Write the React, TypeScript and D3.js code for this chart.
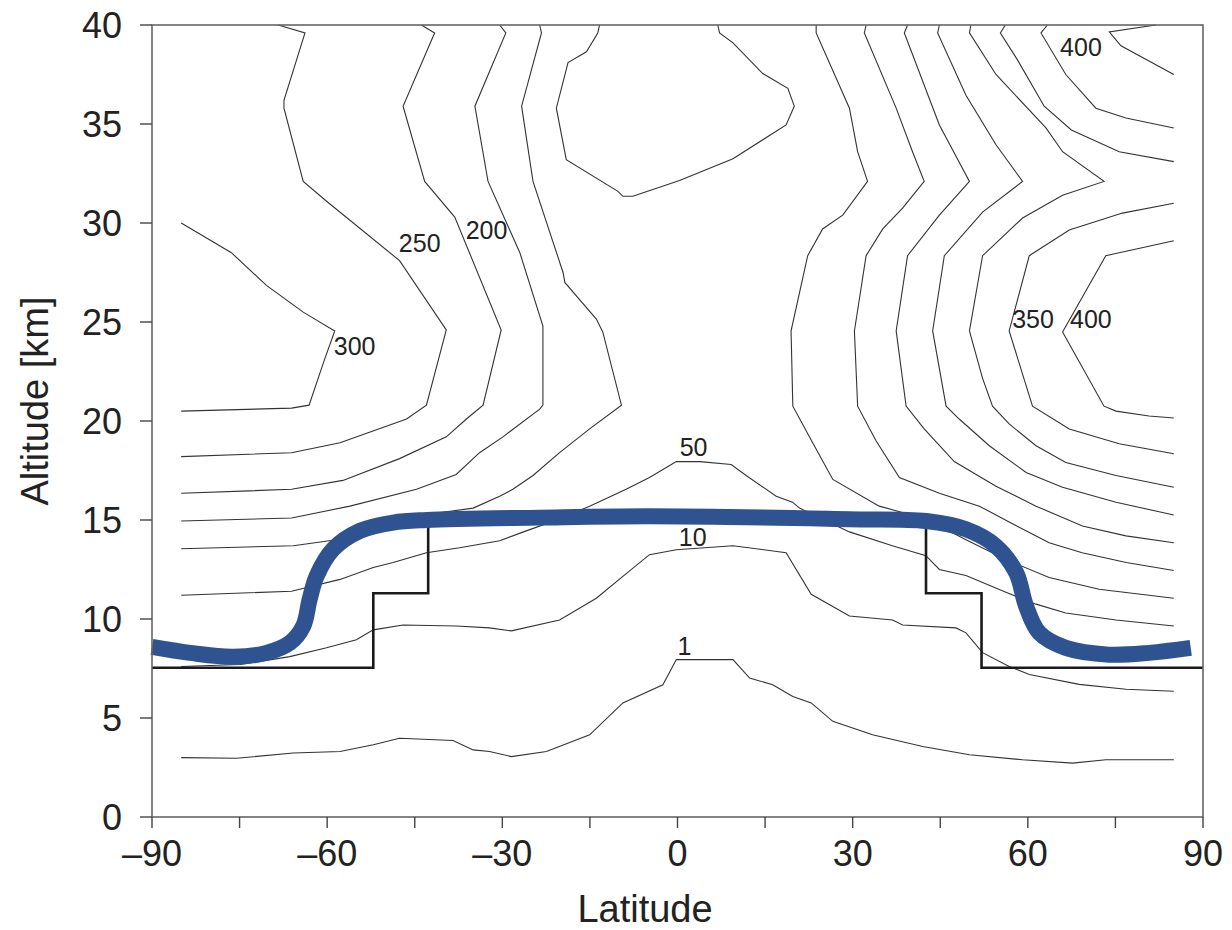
import React from 'react';
import * as d3 from 'd3';

const W = 1232, H = 930;
const plot = { left: 152, right: 1203, top: 25, bottom: 817 };
const FONT = '"Liberation Sans", Arial, Helvetica, sans-serif';

// contour lines as [latitude, altitude km]
const c1 = [[-85,3.0],[-75.5,2.97],[-65.8,3.23],[-57.8,3.31],[-52.1,3.65],[-47.6,3.98],[-38.45,3.86],[-35.0,3.39],[-32.2,3.31],[-28.45,3.05],[-22.45,3.31],[-15.05,4.15],[-9.35,5.76],[-2.5,6.68],[-0.2,7.95],[9.5,7.95],[12.35,7.02],[16.3,6.68],[19.75,6.09],[22.9,5.76],[26.6,4.83],[33.4,4.15],[42.0,3.56],[50.0,3.14],[59.1,2.89],[67.65,2.72],[73.35,2.89],[85,2.89]];
const c10 = [[-85,7.6],[-74.9,7.7],[-66.4,8.1],[-60.1,8.55],[-55.0,8.95],[-52.1,9.45],[-47.0,9.7],[-37.9,9.65],[-32.2,9.55],[-28.45,9.4],[-20.2,9.95],[-13.9,11.05],[-9.35,12.15],[-4.8,13.25],[-0.2,13.5],[9.5,13.7],[18.6,13.35],[22.9,11.25],[29.45,10.15],[36.85,9.95],[38.55,9.7],[47.7,9.55],[49.4,9.3],[52.25,8.3],[56.8,7.6],[60.25,7.2],[68.8,6.7],[76.8,6.45],[85,6.35]];
const c50 = [[-85,11.2],[-66.1,11.4],[-57.8,12.0],[-52.1,12.6],[-48.7,12.85],[-43.0,13.35],[-37.3,13.6],[-30.45,13.95],[-25.9,14.45],[-20.2,15.05],[-15.05,15.7],[-8.8,16.55],[-4.8,17.15],[-0.2,17.95],[3.8,17.95],[9.2,17.8],[11.75,17.25],[16.9,16.2],[19.7,15.9],[20.9,15.6],[26.6,14.8],[29.45,14.4],[36.8,13.7],[42.55,13.2],[44.85,12.5],[49.4,12.2],[56.25,11.35],[61.4,10.75],[66.5,10.3],[75.1,9.95],[85,9.65]];
const c50top = [[-13.35,40],[-13.65,39.6],[-15.6,38.65],[-18.75,38.1],[-20.75,35.8],[-19.05,33.2],[-10.2,31.6],[-9.35,31.35],[-7.65,31.35],[0.35,32.15],[9.5,33.25],[18.6,34.95],[20.0,35.9],[18.9,36.8],[14.6,37.55],[9.5,39.1],[7.2,39.6],[6.9,40]];
const c100s = [[-23.6,40],[-23.3,39.6],[-26.7,35.9],[-24.75,32.1],[-19.6,27.5],[-19.3,27.0],[-13.9,25.15],[-12.8,24.5],[-9.6,20.8],[-15.05,19.6],[-20.2,18.4],[-24.75,17.25],[-28.2,16.55],[-30.45,16.2],[-35.0,15.6],[-42.4,15.3],[-46.4,14.85],[-52.1,14.45],[-58.4,14.0],[-65.8,13.7],[-85,13.55]];
const c150s = [[-30.45,40],[-29.4,39.6],[-34.7,35.9],[-32.45,32.1],[-27.0,28.5],[-23.05,24.8],[-23.05,20.8],[-23.6,20.6],[-29.9,19.2],[-33.9,18.4],[-37.9,17.3],[-44.7,16.55],[-56.1,15.7],[-66.1,15.1],[-85,14.95]];
const c200s = [[-43.85,40],[-41.6,39.6],[-47.0,35.9],[-43.3,32.1],[-38.15,30.3],[-30.2,24.6],[-33.3,20.8],[-36.15,20.1],[-39.6,19.2],[-47.6,18.1],[-57.3,17.0],[-66.1,16.55],[-85,16.35]];
const c250s = [[-68.4,40],[-63.8,39.6],[-67.4,36.2],[-67.4,35.8],[-64.1,32.1],[-60.1,31.1],[-47.6,28.1],[-39.6,24.6],[-43.0,20.8],[-46.4,20.1],[-57.8,18.9],[-66.1,18.4],[-85,18.2]];
const c300s = [[-85,30.0],[-76.4,28.5],[-70.4,26.85],[-64.1,25.5],[-58.7,24.55],[-60.4,23.15],[-63.1,20.8],[-66.1,20.65],[-85,20.5]];
const c100n = [[23.75,40],[23.75,39.6],[29.45,35.8],[30.85,33.6],[32.55,32.1],[28.3,30.4],[24.85,29.7],[22.3,28.35],[19.45,24.55],[19.75,20.75],[23.15,18.9],[26.6,17.05],[34.55,15.7],[42.55,15.05],[49.4,14.0],[56.25,13.0],[63.65,12.1],[72.2,11.5],[85,11.05]];
const c150n = [[32.3,40],[32.0,39.6],[37.45,35.8],[40.25,33.6],[42.25,32.1],[38.55,30.75],[35.15,29.7],[32.3,28.35],[30.3,24.55],[30.85,20.75],[34.0,19.0],[38.0,17.15],[44.85,16.35],[51.7,15.7],[56.8,14.9],[63.65,13.85],[69.3,13.35],[76.85,12.85],[85,12.45]];
const c200n = [[39.4,40],[38.85,39.6],[44.85,34.95],[50.0,32.1],[44.85,30.4],[39.4,28.35],[37.45,24.55],[39.15,20.75],[42.25,19.6],[47.4,17.95],[54.55,16.7],[61.4,15.7],[69.35,14.7],[76.8,14.2],[85,13.85]];
const c250n = [[44.85,40],[44.55,39.6],[49.4,36.45],[54.55,33.95],[59.1,32.1],[52.25,30.55],[45.7,28.35],[43.7,24.55],[46.0,20.75],[48.25,20.1],[53.4,18.75],[59.7,17.4],[65.95,16.65],[75.1,15.9],[85,15.25]];
const c300n = [[50.25,40],[50.0,39.6],[54.55,37.5],[63.1,34.8],[65.95,33.6],[73.05,32.1],[65.95,31.4],[59.1,30.25],[52.25,28.35],[50.0,24.55],[52.25,22.15],[53.95,20.75],[56.8,19.85],[61.4,18.75],[66.5,17.9],[75.1,17.25],[85,16.65]];
const c350n = [[85,31.0],[76.2,30.5],[67.1,29.65],[60.25,28.35],[56.8,24.55],[60.8,20.75],[67.1,19.6],[75.65,18.85],[85,18.35]];
const c400n = [[85,29.1],[73.35,28.35],[65.95,24.5],[73.05,20.75],[75.1,20.5],[80.75,20.25],[85,20.15]];
const c350top = [[56.15,40],[55.3,39.6],[58.2,38.25],[62.8,35.9],[67.45,34.7],[75.65,33.6],[85,33.1]];
const c400top = [[63.35,40],[62.25,39.6],[66.5,37.5],[71.65,35.8],[76.8,35.3],[85,34.8]];
const c450top = [[81.9,40],[73.95,39.65],[75.95,38.95],[85,37.5]];

const contours = [c1, c10, c50, c50top, c100s, c150s, c200s, c250s, c300s,
  c100n, c150n, c200n, c250n, c300n, c350n, c400n, c350top, c400top, c450top];

const contourLabels = [
  { text: '300', lat: -55.3, alt: 23.77 },
  { text: '250', lat: -44.15, alt: 29.0 },
  { text: '200', lat: -32.7, alt: 29.64 },
  { text: '50', lat: 2.75, alt: 18.71 },
  { text: '10', lat: 2.6, alt: 14.15 },
  { text: '1', lat: 1.2, alt: 8.66 },
  { text: '350', lat: 60.9, alt: 25.16 },
  { text: '400', lat: 70.8, alt: 25.16 },
  { text: '400', lat: 69.1, alt: 38.89 },
];

// stepped tropopause
const stepLine = [[-90,7.54],[-52.1,7.54],[-52.1,11.3],[-42.7,11.3],[-42.7,15.0],[42.56,15.0],[42.56,11.3],[52.07,11.3],[52.07,7.54],[90,7.54]];

// smooth tropopause (blue)
const blueLine = [[-90,8.59],[-83.5,8.29],[-76.1,8.09],[-70.4,8.29],[-66.4,8.79],[-64.1,9.64],[-63.0,10.99],[-61.8,12.17],[-59.0,13.52],[-54.4,14.45],[-48.7,14.87],[-43.0,15.0],[-23.6,15.12],[-4.8,15.19],[29.4,15.04],[42.6,14.95],[49.4,14.53],[54.5,13.69],[58.0,12.34],[59.7,10.65],[61.95,9.3],[66.5,8.54],[73.9,8.2],[80.8,8.29],[87.9,8.54]];

const latTicks = [-90, -75, -60, -45, -30, -15, 0, 15, 30, 45, 60, 75, 90];
const latLabels = [-90, -60, -30, 0, 30, 60, 90];
const altTicks = [0, 5, 10, 15, 20, 25, 30, 35, 40];

const fmt = (v: number) => (v < 0 ? '\u2013' + Math.abs(v) : String(v));

export default function App() {
  const x = d3.scaleLinear().domain([-90, 90]).range([plot.left, plot.right]);
  const y = d3.scaleLinear().domain([0, 40]).range([plot.bottom, plot.top]);

  const line = d3.line<number[]>().x(d => x(d[0])).y(d => y(d[1]));
  const smooth = d3.line<number[]>().x(d => x(d[0])).y(d => y(d[1])).curve(d3.curveCatmullRom.alpha(0.5));

  return (
    <svg width={W} height={H} style={{ position: 'absolute', left: 0, top: 0, display: 'block', background: '#fff' }}>
      <g fill="none" stroke="#333" strokeWidth={1.1}>
        {contours.map((c, i) => <path key={i} d={line(c) || ''} />)}
      </g>
      <path d={line(stepLine) || ''} fill="none" stroke="#1a1a1a" strokeWidth={2.6} />
      <path d={smooth(blueLine) || ''} fill="none" stroke="#2f5390" strokeWidth={16} />
      <g fontFamily={FONT} fontSize={25} fill="#222" textAnchor="middle" dominantBaseline="central">
        {contourLabels.map((l, i) => <text key={i} x={x(l.lat)} y={y(l.alt)}>{l.text}</text>)}
      </g>

      <rect x={plot.left} y={plot.top} width={plot.right - plot.left} height={plot.bottom - plot.top}
        fill="none" stroke="#666" strokeWidth={1.6} />
      <g stroke="#444" strokeWidth={1.4}>
        {latTicks.map(t => <line key={t} x1={x(t)} x2={x(t)} y1={plot.bottom} y2={plot.bottom + 11} />)}
        {altTicks.map(t => <line key={t} x1={plot.left - 12} x2={plot.left} y1={y(t)} y2={y(t)} />)}
      </g>
      <g fontFamily={FONT} fontSize={36} fill="#222">
        {latLabels.map(t => <text key={t} x={x(t)} y={866} textAnchor="middle">{fmt(t)}</text>)}
        {altTicks.map(t => <text key={t} x={122} y={y(t)} textAnchor="end" dominantBaseline="central">{t}</text>)}
      </g>
      <g fontFamily={FONT} fontSize={38} fill="#222">
        <text x={645} y={922} textAnchor="middle">Latitude</text>
        <text transform="translate(48,401) rotate(-90)" textAnchor="middle">Altitude [km]</text>
      </g>
    </svg>
  );
}
